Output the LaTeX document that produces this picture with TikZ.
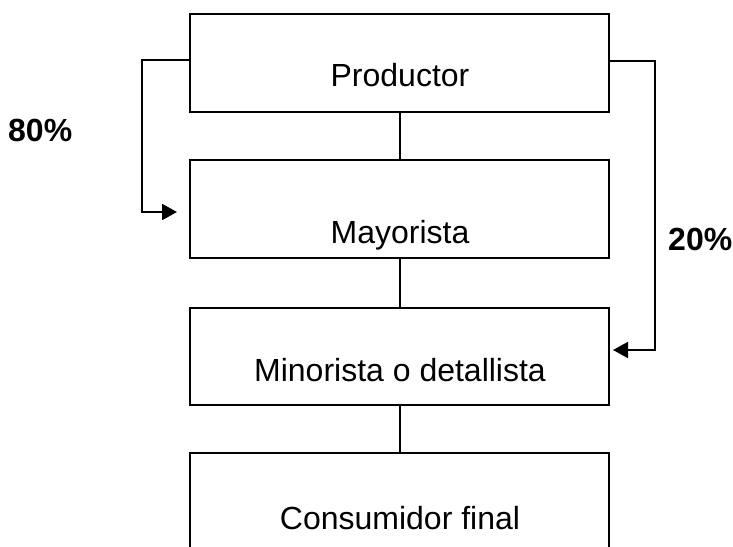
\documentclass[tikz,border=0pt]{standalone}
\usepackage{fontspec}
\setmainfont{Liberation Sans}
\usetikzlibrary{arrows.meta}
\begin{document}
\begin{tikzpicture}[x=1pt,y=-1pt,
  box/.style={draw,line width=2pt,minimum width=419pt,inner sep=0pt},
  lbl/.style={font=\fontsize{32}{36}\selectfont,anchor=base,inner sep=0pt},
  pct/.style={font=\fontsize{32}{36}\selectfont\bfseries,anchor=base west,inner sep=0pt},
  conn/.style={line width=2pt},
  arr/.style={line width=2pt,-{Triangle[length=15pt,width=16pt]}}]
\useasboundingbox (0,0) rectangle (733,546);
\clip (0,0) rectangle (733,546);
\fill[white] (0,0) rectangle (733,546);
\node[box,minimum height=98pt] (P) at (399.5,63) {};
\node[box,minimum height=98pt] (M) at (399.5,209) {};
\node[box,minimum height=97pt] (R) at (399.5,356.5) {};
\node[box,minimum height=140pt] (C) at (399.5,523) {};
\node[lbl] (tP) at (400,86.5) {Productor};
\node[lbl] (tM) at (400,243) {Mayorista};
\node[lbl] (tR) at (400,381) {Minorista o detallista};
\node[lbl] (tC) at (400,529) {Consumidor final};
\node[pct] (p80) at (8,141.5) {80\%};
\node[pct] (p20) at (668,250) {20\%};
\draw[conn] (P.south) -- (M.north);
\draw[conn] (M.south) -- (R.north);
\draw[conn] (R.south) -- (C.north);
\coordinate (lA) at (142,60);
\coordinate (lB) at (142,212);
\coordinate (lT) at (177,212);
\draw[arr] (P.west |- lA) -- (lA) -- (lB) -- (lT);
\coordinate (rA) at (655,61);
\coordinate (rB) at (655,350);
\coordinate (rT) at (613,350);
\draw[arr] (P.east |- rA) -- (rA) -- (rB) -- (rT);
\end{tikzpicture}
\end{document}
